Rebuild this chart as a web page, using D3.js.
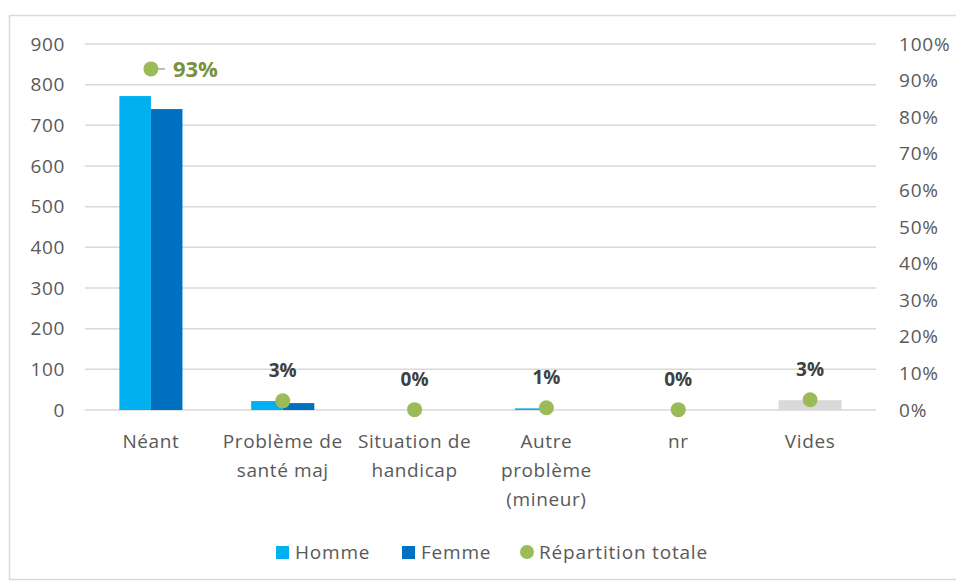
<!DOCTYPE html>
<html>
<head>
<meta charset="utf-8">
<script src="https://cdn.jsdelivr.net/npm/d3@7"></script>
<style>
  body { margin: 0; background: #fff; }
  text { font-family: "Open Sans", "Liberation Sans", sans-serif; }
</style>
</head>
<body>
<svg id="chart"></svg>
<script>
var categories = ['Néant', 'Problème de santé maj', 'Situation de handicap', 'Autre problème (mineur)', 'nr', 'Vides'];
var catLines = [['Néant'], ['Problème de', 'santé maj'], ['Situation de', 'handicap'], ['Autre', 'problème', '(mineur)'], ['nr'], ['Vides']];
var homme = [772, 22, 0, 4, 0, 24];
var femme = [740, 17, 0, 0, 0, 24];
var repartition = [0.932, 0.025, 0.001, 0.006, 0.001, 0.028];
var repLabels = ['93%', '3%', '0%', '1%', '0%', '3%'];
var leftTicks = [0, 100, 200, 300, 400, 500, 600, 700, 800, 900];
var rightTicks = [0, 0.1, 0.2, 0.3, 0.4, 0.5, 0.6, 0.7, 0.8, 0.9, 1];

var width = 956, height = 583;
var plotLeft = 85, plotRight = 876, plotTop = 44, plotBottom = 410;
var fontSize = 19;

var svg = d3.select('#chart').attr('width', width).attr('height', height);

// frame
svg.append('rect')
    .attr('x', 9.5).attr('y', 15.5)
    .attr('width', 960).attr('height', 564)
    .attr('fill', 'white').attr('stroke', '#d9d9d9').attr('stroke-width', 1.5);

var xs = d3.scaleBand().domain(categories).range([plotLeft, plotRight]);
var ys = d3.scaleLinear().domain([0, 900]).range([plotBottom, plotTop]);
var ys2 = d3.scaleLinear().domain([0, 1]).range([plotBottom, plotTop]);
var xb = d3.scaleBand().domain(['h', 'f']).range([0, xs.bandwidth()]).paddingInner(0).paddingOuter(1.09);

// gridlines
svg.append('g').selectAll('line').data(leftTicks).enter()
    .append('line')
    .attr('x1', plotLeft).attr('x2', plotRight)
    .attr('y1', function (d) { return ys(d); })
    .attr('y2', function (d) { return ys(d); })
    .attr('stroke', '#d9d9d9').attr('stroke-width', 1.5);

// left axis
svg.append('g').selectAll('text').data(leftTicks).enter()
    .append('text')
    .attr('x', 65).attr('y', function (d) { return ys(d); })
    .attr('dy', '0.35em').attr('text-anchor', 'end')
    .attr('font-size', fontSize).attr('fill', '#595959').attr('letter-spacing', 0.6)
    .text(function (d) { return d; });

// right axis
svg.append('g').selectAll('text').data(rightTicks).enter()
    .append('text')
    .attr('x', 899).attr('y', function (d) { return ys2(d); })
    .attr('dy', '0.35em').attr('text-anchor', 'start')
    .attr('font-size', fontSize).attr('fill', '#595959').attr('letter-spacing', 0.8)
    .text(function (d) { return Math.round(d * 100) + '%'; });

// bars
var bars = svg.append('g');
categories.forEach(function (c, i) {
    var isVide = c === 'Vides';
    bars.append('rect')
        .attr('x', xs(c) + xb('h')).attr('width', xb.bandwidth())
        .attr('y', ys(homme[i])).attr('height', plotBottom - ys(homme[i]))
        .attr('fill', isVide ? '#d9d9d9' : '#00b0f0');
    bars.append('rect')
        .attr('x', xs(c) + xb('f')).attr('width', xb.bandwidth())
        .attr('y', ys(femme[i])).attr('height', plotBottom - ys(femme[i]))
        .attr('fill', isVide ? '#d9d9d9' : '#0070c0');
});

// category labels
categories.forEach(function (c, i) {
    var t = svg.append('text')
        .attr('x', xs(c) + xs.bandwidth() / 2).attr('y', 448)
        .attr('text-anchor', 'middle').attr('font-size', fontSize).attr('fill', '#595959')
        .attr('letter-spacing', 0.6);
    catLines[i].forEach(function (l, j) {
        t.append('tspan').attr('x', xs(c) + xs.bandwidth() / 2)
            .attr('dy', j === 0 ? 0 : 29).text(l);
    });
});

// repartition points + labels
categories.forEach(function (c, i) {
    var cx = xs(c) + xs.bandwidth() / 2;
    var cy = ys2(repartition[i]);
    if (i === 0) {
        svg.append('line')
            .attr('x1', cx).attr('x2', cx + 14)
            .attr('y1', cy).attr('y2', cy)
            .attr('stroke', '#a6a6a6').attr('stroke-width', 1.5);
        svg.append('text')
            .attr('x', cx + 22).attr('y', cy).attr('dy', '0.36em')
            .attr('font-size', 22).attr('font-weight', 'bold').attr('fill', '#76923c')
            .text(repLabels[i]);
    } else {
        svg.append('text')
            .attr('x', cx).attr('y', cy - 24)
            .attr('text-anchor', 'middle')
            .attr('font-size', fontSize).attr('font-weight', 'bold').attr('fill', '#404040')
            .text(repLabels[i]);
    }
    svg.append('circle')
        .attr('cx', cx).attr('cy', cy).attr('r', 7.5)
        .attr('fill', '#9bbb59');
});

// legend
var legend = svg.append('g');
var items = [
    { label: 'Homme', color: '#00b0f0', x: 276, shape: 'rect' },
    { label: 'Femme', color: '#0070c0', x: 402, shape: 'rect' },
    { label: 'Répartition totale', color: '#9bbb59', x: 520, shape: 'circle' }
];
items.forEach(function (it) {
    if (it.shape === 'rect') {
        legend.append('rect').attr('x', it.x).attr('y', 546).attr('width', 13).attr('height', 13).attr('fill', it.color);
    } else {
        legend.append('circle').attr('cx', it.x + 7).attr('cy', 552).attr('r', 7).attr('fill', it.color);
    }
    legend.append('text')
        .attr('x', it.x + 19).attr('y', 552).attr('dy', '0.35em')
        .attr('font-size', fontSize).attr('fill', '#595959').attr('letter-spacing', 0.8)
        .text(it.label);
});
</script>
</body>
</html>
